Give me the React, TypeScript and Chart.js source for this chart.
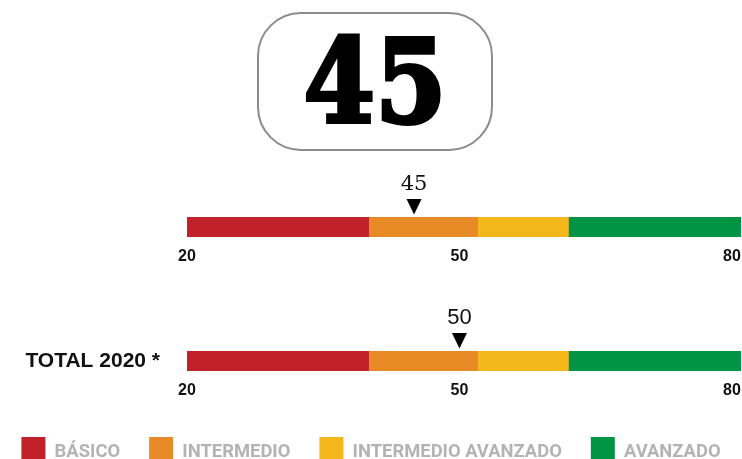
import React, { useEffect, useRef } from "react";
import { Chart, registerables } from "chart.js";

Chart.register(...registerables);

// ---- data ----
const headlineValue = "45";
const levelNames = ["BÁSICO", "INTERMEDIO", "INTERMEDIO AVANZADO", "AVANZADO"];
const levelStarts = [20, 40, 52, 62];
const levelEnds = [40, 52, 62, 81];
const levelColors = ["#C1212A", "#E88A25", "#F4B81D", "#009444"];
const rowLabels = ["", "TOTAL 2020 *"];
const markerValues = [45, 50];
const markerLabels = ["45", "50"];
const tickValues = [20, 50, 80];
const scaleMin = 20;
const scaleMax = 81;

const markerFonts = ['21px "DejaVu Serif", serif', '22px "Liberation Sans", Arial, sans-serif'];

const markerPlugin = {
  id: "marker",
  afterDatasetsDraw(chart: any, _args: any, opts: any) {
    const { ctx, chartArea, scales } = chart;
    const x = scales.x.getPixelForValue(opts.value);
    const tip = chartArea.top - 2.5;
    const h = 15.5;
    const w = 15;
    ctx.save();
    ctx.fillStyle = "#000";
    ctx.beginPath();
    ctx.moveTo(x - w / 2, tip - h);
    ctx.lineTo(x + w / 2, tip - h);
    ctx.lineTo(x, tip);
    ctx.closePath();
    ctx.fill();
    ctx.font = opts.font;
    ctx.textAlign = "center";
    ctx.textBaseline = "alphabetic";
    ctx.fillStyle = "#111";
    ctx.fillText(opts.label, x, tip - h - 9);
    ctx.restore();
  },
};

function makeConfig(row: number, showLegend: boolean, padTop: number, xHeight: number, extra: number): any {
  return {
    type: "bar",
    data: {
      labels: [rowLabels[row]],
      datasets: levelNames.map((name, k) => ({
        label: name,
        data: [[levelStarts[k], levelEnds[k]]],
        backgroundColor: levelColors[k],
        borderWidth: 0,
        grouped: false,
        barPercentage: 1,
        categoryPercentage: 1,
        yAxisID: "y",
      })),
    },
    options: {
      indexAxis: "y",
      responsive: false,
      animation: false,
      events: [],
      layout: { padding: { top: padTop, right: 0, bottom: 0, left: 0 } },
      scales: {
        x: {
          type: "linear",
          min: scaleMin,
          max: scaleMax,
          grid: { display: false, drawTicks: false },
          border: { display: false },
          afterBuildTicks: (s: any) => {
            s.ticks = tickValues.map((v) => ({ value: v }));
          },
          afterFit: (s: any) => {
            s.height = xHeight;
            s.paddingLeft = 0;
            s.paddingRight = 0;
          },
          ticks: {
            autoSkip: false,
            maxRotation: 0,
            padding: 10,
            color: "#111",
            font: { family: '"Liberation Sans", Arial, sans-serif', size: 16, weight: "bold" },
          },
        },
        y: {
          type: "category",
          position: "left",
          grid: { display: false, drawTicks: false },
          border: { display: false },
          afterFit: (s: any) => {
            s.width = 187 + extra;
            s.paddingTop = 0;
            s.paddingBottom = 0;
          },
          ticks: {
            padding: 27,
            color: "#111",
            font: { family: '"Liberation Sans", Arial, sans-serif', size: 21, weight: "bold" },
          },
        },
        yRight: {
          type: "category",
          position: "right",
          grid: { display: false, drawTicks: false },
          border: { display: false },
          ticks: { display: false },
          afterFit: (s: any) => {
            s.width = 1 + extra;
            s.paddingTop = 0;
            s.paddingBottom = 0;
          },
        },
      },
      plugins: {
        legend: {
          display: showLegend,
          position: "bottom",
          maxHeight: 300,
          labels: {
            boxWidth: 24,
            boxHeight: 30,
            padding: 29,
            color: "#b3b3b3",
            font: { family: "Roboto", size: 18.4, weight: "bold" },
          },
        },
        tooltip: { enabled: false },
        marker: { value: markerValues[row], label: markerLabels[row], font: markerFonts[row] },
      },
    },
    plugins: [markerPlugin],
  };
}

function BarChart(props: { row: number; top: number; height: number; legend: boolean; padTop: number; xHeight: number; extra: number }) {
  const ref = useRef<HTMLCanvasElement | null>(null);
  useEffect(() => {
    if (!ref.current) return;
    const chart = new Chart(ref.current, makeConfig(props.row, props.legend, props.padTop, props.xHeight, props.extra));
    return () => chart.destroy();
  }, []);
  const w = 742 + props.extra * 2;
  return (
    <canvas
      ref={ref}
      width={w}
      height={props.height}
      style={{ position: "absolute", left: -props.extra, top: props.top, width: w, height: props.height }}
    />
  );
}

export default function App() {
  return (
    <div
      style={{
        position: "absolute",
        left: 0,
        top: 0,
        width: 742,
        height: 459,
        overflow: "hidden",
        background: "#fff",
      }}
    >
      <div
        style={{
          position: "absolute",
          left: 257,
          top: 12,
          width: 236,
          height: 139,
          boxSizing: "border-box",
          border: "2.5px solid #8c8c8c",
          borderRadius: 44,
        }}
      />
      <div
        style={{
          position: "absolute",
          left: 275,
          top: 23,
          width: 200,
          height: 116,
          lineHeight: "116px",
          fontSize: 116,
          fontFamily: '"DejaVu Serif", serif',
          fontWeight: "bold",
          color: "#000",
          textAlign: "center",
          WebkitTextStroke: "4px #000",
          transform: "scaleX(0.887)",
          transformOrigin: "center",
        }}
      >
        {headlineValue}
      </div>
      <BarChart row={0} top={150} height={120} legend={false} padTop={67} xHeight={33} extra={0} />
      <BarChart row={1} top={280} height={197} legend={true} padTop={71} xHeight={37} extra={30} />
    </div>
  );
}
